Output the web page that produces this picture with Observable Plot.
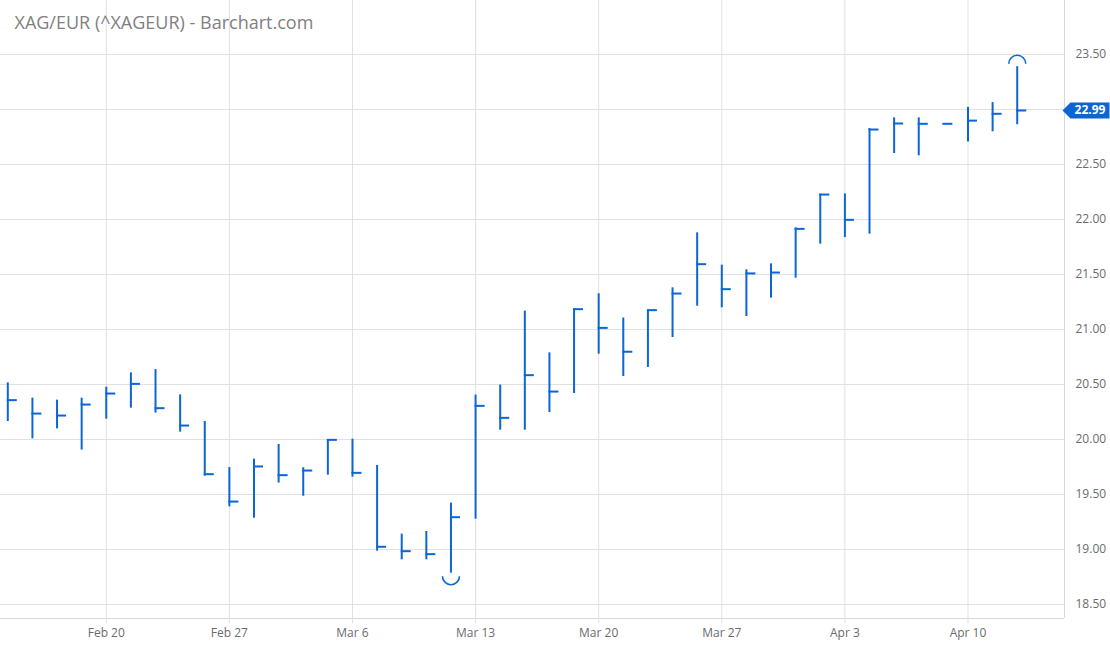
<!DOCTYPE html>
<html>
<head>
<meta charset="utf-8">
<script src="https://cdn.jsdelivr.net/npm/d3@7"></script>
<script src="https://cdn.jsdelivr.net/npm/@observablehq/plot@0.6"></script>
<style>
  html, body { margin: 0; padding: 0; background: #fff; }
  #chart { width: 1110px; height: 645px; overflow: hidden; }
</style>
</head>
<body>
<div id="chart"></div>
<script>
const title = "XAG/EUR (^XAGEUR) - Barchart.com";

const dates = [
  "Feb 14", "Feb 15", "Feb 16", "Feb 17",
  "Feb 20", "Feb 21", "Feb 22", "Feb 23", "Feb 24",
  "Feb 27", "Feb 28", "Mar 1", "Mar 2", "Mar 3",
  "Mar 6", "Mar 7", "Mar 8", "Mar 9", "Mar 10",
  "Mar 13", "Mar 14", "Mar 15", "Mar 16", "Mar 17",
  "Mar 20", "Mar 21", "Mar 22", "Mar 23", "Mar 24",
  "Mar 27", "Mar 28", "Mar 29", "Mar 30", "Mar 31",
  "Apr 3", "Apr 4", "Apr 5", "Apr 6", "Apr 7",
  "Apr 10", "Apr 11", "Apr 12"
];

const high = [
  20.515, 20.376, 20.358, 20.376,
  20.476, 20.606, 20.636, 20.406, 20.164,
  19.745, 19.822, 19.955, 19.743, 20.000,
  20.003, 19.764, 19.140, 19.164, 19.422,
  20.404, 20.495, 21.167, 20.788, 21.188,
  21.325, 21.105, 21.176, 21.379, 21.879,
  21.585, 21.543, 21.597, 21.924, 22.231,
  22.233, 22.827, 22.924, 22.924, 22.870,
  23.020, 23.063, 23.389
];

const low = [
  20.164, 20.006, 20.097, 19.904,
  20.185, 20.285, 20.240, 20.067, 19.667,
  19.388, 19.285, 19.604, 19.485, 19.676,
  19.658, 18.985, 18.906, 18.906, 18.785,
  19.276, 20.085, 20.085, 20.245, 20.418,
  20.776, 20.573, 20.655, 20.927, 21.212,
  21.197, 21.118, 21.285, 21.467, 21.776,
  21.836, 21.867, 22.600, 22.579, 22.870,
  22.705, 22.797, 22.861
];

const close = [
  20.358, 20.236, 20.218, 20.318,
  20.418, 20.506, 20.285, 20.127, 19.685,
  19.436, 19.755, 19.676, 19.718, 19.997,
  19.697, 19.025, 18.985, 18.958, 19.294,
  20.306, 20.197, 20.585, 20.436, 21.185,
  21.015, 20.798, 21.176, 21.327, 21.594,
  21.367, 21.510, 21.518, 21.915, 22.227,
  21.997, 22.818, 22.873, 22.870, 22.870,
  22.899, 22.961, 22.991
];

const xTickLabels = ["Feb 20", "Feb 27", "Mar 6", "Mar 13", "Mar 20", "Mar 27", "Apr 3", "Apr 10"];
const yTickValues = [18.5, 19.0, 19.5, 20.0, 20.5, 21.0, 21.5, 22.0, 22.5, 23.0, 23.5];

const bars = dates.map((d, i) => ({i, date: d, high: high[i], low: low[i], close: close[i]}));
const hiBar = bars.reduce((a, b) => (b.high > a.high ? b : a));
const loBar = bars.reduce((a, b) => (b.low < a.low ? b : a));
const last = bars[bars.length - 1];
const xTicks = xTickLabels.map(l => dates.indexOf(l));

const blue = "#0b66d4";
const gridColor = "#e1e1e1";
const xDomain = [-0.2965, 42.92];
const yDomain = [18.373, 23.991];

const closeTick = {draw(ctx) { ctx.moveTo(-1, 0); ctx.lineTo(9, 0); }};
const arcUp = {draw(ctx) { ctx.moveTo(-8.5, 0); ctx.arc(0, 0, 8.5, Math.PI, 2 * Math.PI); }};
const arcDown = {draw(ctx) { ctx.moveTo(8.5, 0); ctx.arc(0, 0, 8.5, 0, Math.PI); }};
const priceTag = {draw(ctx) {
  ctx.moveTo(-2, 0); ctx.lineTo(6, -8); ctx.lineTo(45, -8);
  ctx.lineTo(45, 8); ctx.lineTo(6, 8); ctx.closePath();
}};

const chart = Plot.plot({
  width: 1110,
  height: 645,
  marginTop: 0,
  marginLeft: 0,
  marginRight: 46,
  marginBottom: 27,
  style: {fontFamily: "'Open Sans', sans-serif", fontSize: "12px", background: "#fff"},
  x: {type: "linear", domain: xDomain, label: null},
  y: {domain: yDomain, label: null},
  marks: [
    Plot.gridX(xTicks, {stroke: gridColor, strokeOpacity: 1}),
    Plot.gridY(yTickValues, {stroke: gridColor, strokeOpacity: 1}),
    Plot.ruleY([yDomain[0]], {stroke: "#d8d8d8"}),
    Plot.ruleX([xDomain[1]], {stroke: "#d8d8d8"}),
    Plot.axisX(xTicks, {
      tickSize: 5, tickPadding: 5, stroke: gridColor, fill: "#6b6b6b",
      tickFormat: i => dates[i], fontSize: 12, label: null
    }),
    Plot.axisY(yTickValues, {
      anchor: "right", tickSize: 0, tickPadding: 11, fill: "#6b6b6b",
      tickFormat: d3.format(".2f"), fontSize: 12, label: null
    }),
    Plot.ruleX(bars, {x: "i", y1: "low", y2: "high", stroke: blue, strokeWidth: 2}),
    Plot.dot(bars, {x: "i", y: "close", symbol: closeTick, stroke: blue, strokeWidth: 2, fill: "none"}),
    Plot.dot([hiBar], {x: "i", y: "high", dy: -3, symbol: arcUp, stroke: blue, strokeWidth: 1.6, fill: "none"}),
    Plot.dot([loBar], {x: "i", y: "low", dy: 3, symbol: arcDown, stroke: blue, strokeWidth: 1.6, fill: "none"}),
    Plot.dot([last], {y: "close", frameAnchor: "right", symbol: priceTag, fill: blue, stroke: "none"}),
    Plot.text([last], {
      y: "close", frameAnchor: "right", dx: 25.5, text: d => d.close.toFixed(2),
      fill: "#fff", fontWeight: "bold", fontSize: 12, textAnchor: "middle"
    }),
    Plot.text([title], {
      frameAnchor: "top-left", lineAnchor: "top", textAnchor: "start",
      dx: 14, dy: 16, fill: "#808080", fontSize: 18
    })
  ]
});

document.getElementById("chart").appendChild(chart);
</script>
</body>
</html>
